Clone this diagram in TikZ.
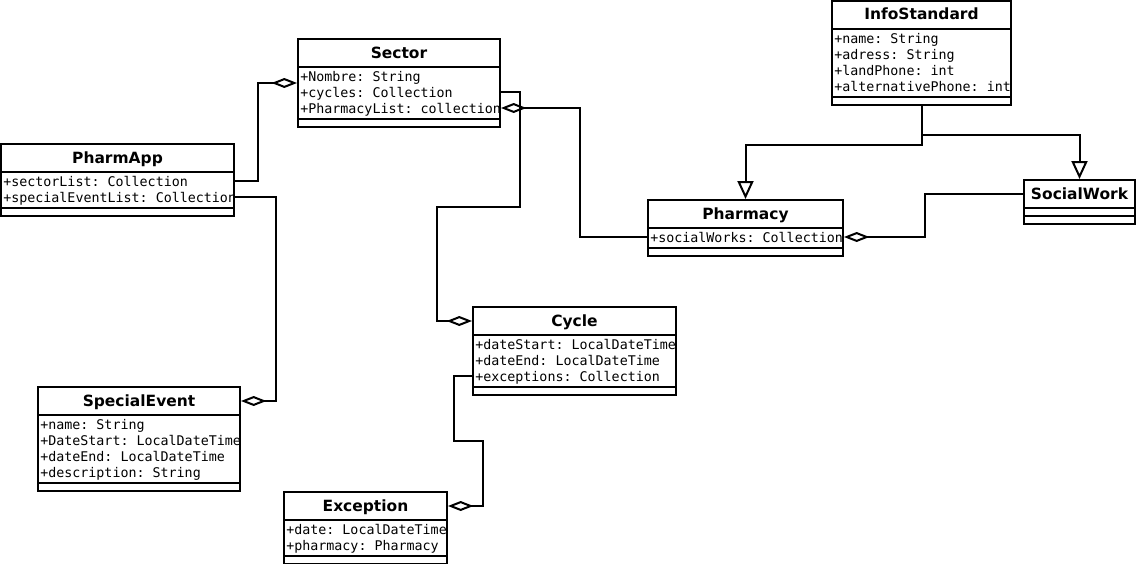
\documentclass[tikz,border=0pt]{standalone}
\usepackage{fontspec}
\newfontfamily\uifont{DejaVu Sans}
\newfontfamily\attrfont{DejaVu Sans Mono}
\usetikzlibrary{arrows.meta,fit,calc}

\tikzset{
  classbox/.style={draw, line width=1.5pt, inner sep=0pt},
  rule/.style={line width=1.5pt},
  classtitle/.style={inner sep=0pt, anchor=base, font=\uifont\bfseries\fontsize{11.6}{13}\selectfont},
  attr/.style={inner sep=0pt, anchor=base west, font=\attrfont\frenchspacing\fontsize{10}{12}\selectfont},
  link/.style={line width=1.5pt},
  agg/.style={link, {Diamond[open, length=19pt, width=7.5pt]}-},
  gen/.style={link, -{Triangle[open, length=13.5pt, width=12pt]}},
}

% \umlclass{id}{left}{top}{width}{number of attributes}{title}{attributes}
\newcommand\umlclass[7]{%
  \pgfmathsetmacro\attrh{#5>0 ? 16*#5+4 : 8}
  \coordinate (#1-nw) at (#2,#3);
  \coordinate (#1-se) at (#2+#4,#3+36+\attrh);
  \coordinate (#1-mid) at (#2,#3+14);
  \ifnum#5>0
    \begin{scope}
      \clip (#1-nw) rectangle (#1-se);
      \foreach \a [count=\i] in {#7} {
        \coordinate (#1-r\i) at (#2,#3+37+16*\i-16);
        \node[attr] (#1-a\i) at (#2+2,#3+42+16*\i-16) {\a};
      }
    \end{scope}
  \fi
  \node[classbox, fit=(#1-nw)(#1-se)] (#1) {};
  \node[classtitle] (#1-title) at (#2+#4/2,#3+19) {#6};
  \draw[rule] (#2,#3+28) -- ++(#4,0);
  \draw[rule] (#2,#3+28+\attrh) -- ++(#4,0);
}

\begin{document}
\begin{tikzpicture}[x=0.75pt, y=-0.75pt]
  \useasboundingbox (0,0) rectangle (1136,564);

  % classes
  \umlclass{pharmapp}{1}{144}{233}{2}{PharmApp}
    {+sectorList: Collection, +specialEventList: Collection}
  \umlclass{sector}{298}{39}{202}{3}{Sector}
    {+Nombre: String, +cycles: Collection, +PharmacyList: collection}
  \umlclass{infostandard}{832}{1}{179}{4}{InfoStandard}
    {+name: String, +adress: String, +landPhone: int, +alternativePhone: int}
  \umlclass{socialwork}{1024}{180}{111}{0}{SocialWork}{}
  \umlclass{pharmacy}{648}{200}{195}{1}{Pharmacy}
    {+socialWorks: Collection}
  \umlclass{cycle}{473}{307}{203}{3}{Cycle}
    {+dateStart: LocalDateTime, +dateEnd: LocalDateTime, +exceptions: Collection}
  \umlclass{specialevent}{38}{387}{202}{4}{SpecialEvent}
    {+name: String, +DateStart: LocalDateTime, +dateEnd: LocalDateTime, +description: String}
  \umlclass{exception}{284}{492}{163}{2}{Exception}
    {+date: LocalDateTime, +pharmacy: Pharmacy}

  % aggregations
  \draw[agg] ($(sector.north west)+(0,45)$) -- ++(-39,0)
    |- (pharmapp.east |- pharmapp-r1);
  \draw[agg] (specialevent.east |- specialevent-mid) -- ++(35,0)
    |- (pharmapp.east |- pharmapp-r2);
  \draw[agg] (cycle.west |- cycle-mid) -- ++(-35,0) |- ++(83,-114)
    |- (sector.east |- sector-r2);
  \draw[agg] (sector.east |- sector-r3)
    -| ($(pharmacy.west |- pharmacy-r1)+(-67,0)$)
    -- (pharmacy.west |- pharmacy-r1);
  \draw[agg] (pharmacy.east |- pharmacy-r1) -- ++(81,0)
    |- (socialwork.west |- socialwork-mid);
  \draw[agg] (exception.east |- exception-mid) -- ++(35,0) |- ++(-29,-65)
    |- (cycle.west |- cycle-r3);

  % generalisations
  \draw[gen] (infostandard.south) -- ++(0,39) -| (pharmacy.north);
  \draw[gen] (infostandard.south) -- ++(0,29) -| (socialwork.north);
\end{tikzpicture}
\end{document}
